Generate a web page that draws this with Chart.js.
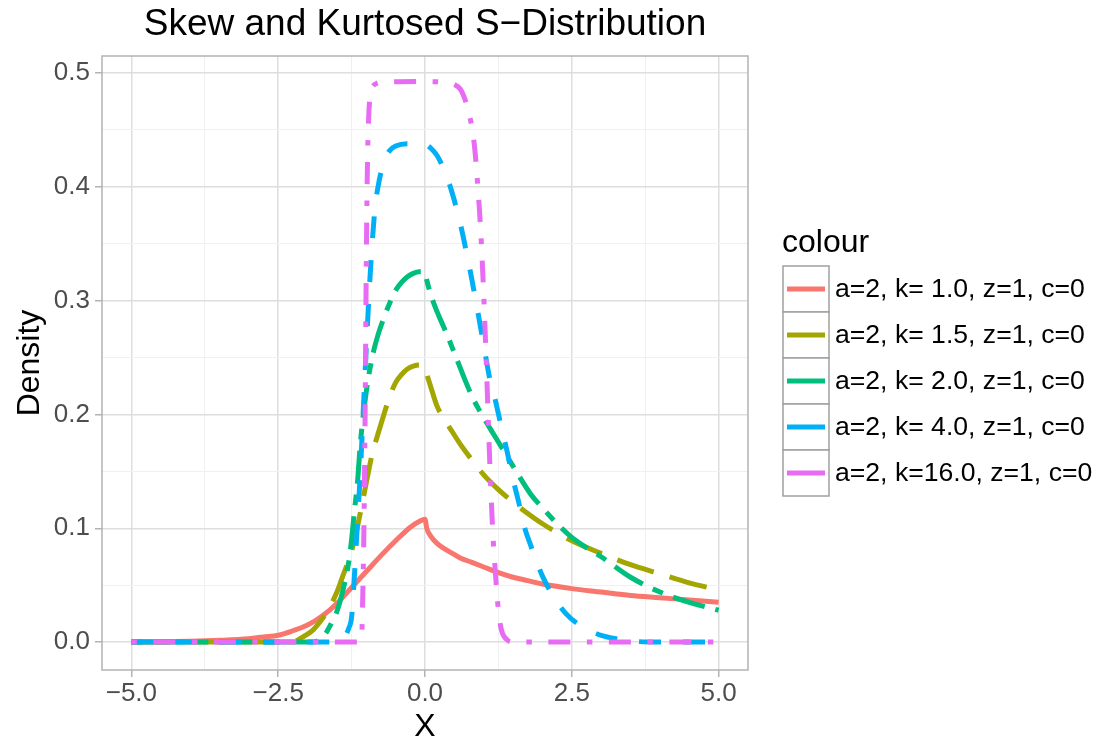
<!DOCTYPE html>
<html>
<head>
<meta charset="utf-8">
<script src="https://cdn.jsdelivr.net/npm/chart.js@4.4.1/dist/chart.umd.min.js"></script>
<style>
  html, body { margin: 0; padding: 0; background: #fff; }
  canvas { display: block; }
</style>
</head>
<body>
<canvas id="chart" width="1103" height="743"></canvas>
<script>
/* ─────────────────────────────────────────
   DATOS
───────────────────────────────────────── */
const titulo = "Skew and Kurtosed S\u2212Distribution";
const tituloX = "X";
const tituloY = "Density";
const tituloLeyenda = "colour";
const etiquetas = [
  "a=2, k= 1.0, z=1, c=0",
  "a=2, k= 1.5, z=1, c=0",
  "a=2, k= 2.0, z=1, c=0",
  "a=2, k= 4.0, z=1, c=0",
  "a=2, k=16.0, z=1, c=0"
];

// k = 1.0
const xK1 = [-5, -4.5, -4, -3.5, -3, -2.75, -2.5, -2.25, -2, -1.75, -1.5, -1.25, -1, -0.75, -0.5, -0.25, -0.1, 0,
             0.03, 0.1, 0.2, 0.3, 0.4, 0.6, 0.8, 1.0, 1.25, 1.5, 1.75, 2.0, 2.5, 3.0, 3.5, 4.0, 4.5, 5.0];
const yK1 = [0.0002, 0.0004, 0.0008, 0.0016, 0.003, 0.0045, 0.006, 0.010, 0.015, 0.023, 0.034, 0.048, 0.062, 0.076, 0.089, 0.101, 0.106, 0.108,
             0.100, 0.093, 0.087, 0.083, 0.080, 0.074, 0.070, 0.066, 0.061, 0.057, 0.054, 0.051, 0.047, 0.044, 0.041, 0.039, 0.037, 0.035];

// k = 1.5
const xK15 = [-5, -2.3, -2.2, -2.1, -2.0, -1.9, -1.8, -1.7, -1.6, -1.5, -1.4, -1.3, -1.2, -1.1, -1.0, -0.9, -0.8, -0.7, -0.6, -0.5, -0.4, -0.3, -0.2, -0.1, 0,
              0.03, 0.1, 0.2, 0.3, 0.4, 0.6, 0.8, 1.0, 1.25, 1.5, 1.75, 2.0, 2.5, 3.0, 3.5, 4.0, 4.5, 5.0];
const yK15 = [0, 0, 0.001, 0.004, 0.007, 0.011, 0.017, 0.024, 0.033, 0.044, 0.058, 0.072, 0.090, 0.114, 0.140, 0.165, 0.183, 0.200, 0.216, 0.228, 0.235, 0.240, 0.2425, 0.2435, 0.243,
              0.236, 0.224, 0.208, 0.198, 0.190, 0.174, 0.160, 0.147, 0.134, 0.123, 0.113, 0.104, 0.089, 0.078, 0.068, 0.060, 0.052, 0.046];

// k = 2.0
const xK2 = [-5, -1.9, -1.8, -1.7, -1.6, -1.5, -1.4, -1.3, -1.25, -1.2, -1.15, -1.1, -1.0, -0.9, -0.8, -0.7, -0.6, -0.5, -0.4, -0.3, -0.2, -0.1, 0,
             0.03, 0.1, 0.2, 0.3, 0.4, 0.5, 0.6, 0.7, 0.8, 0.9, 1.0, 1.2, 1.4, 1.6, 1.8, 2.0, 2.25, 2.5, 2.75, 3.0, 3.5, 4.0, 4.5, 5.0];
const yK2 = [0, 0, 0.002, 0.007, 0.016, 0.027, 0.045, 0.070, 0.090, 0.116, 0.140, 0.175, 0.220, 0.250, 0.270, 0.285, 0.298, 0.309, 0.316, 0.321, 0.324, 0.3255, 0.325,
             0.318, 0.305, 0.291, 0.279, 0.267, 0.254, 0.241, 0.228, 0.216, 0.206, 0.197, 0.180, 0.163, 0.146, 0.130, 0.118, 0.104, 0.092, 0.083, 0.075, 0.057, 0.044, 0.035, 0.028];

// k = 4.0
const xK4 = [-5, -1.5, -1.4, -1.35, -1.3, -1.25, -1.2, -1.15, -1.1, -1.05, -1.0, -0.95, -0.9, -0.85, -0.8, -0.7, -0.6, -0.5, -0.3, 0,
             0.05, 0.1, 0.2, 0.3, 0.4, 0.5, 0.6, 0.7, 0.8, 0.9, 1.0, 1.1, 1.2, 1.3, 1.4, 1.5, 1.6, 1.7, 1.8, 1.9, 2.0, 2.2, 2.4, 2.6, 2.8, 3.0, 3.25, 3.5, 4.0, 5.0];
const yK4 = [0, 0, 0.002, 0.006, 0.012, 0.022, 0.060, 0.105, 0.150, 0.205, 0.258, 0.308, 0.350, 0.382, 0.400, 0.422, 0.432, 0.436, 0.438, 0.438,
             0.436, 0.434, 0.428, 0.418, 0.405, 0.388, 0.368, 0.344, 0.318, 0.290, 0.261, 0.232, 0.212, 0.189, 0.167, 0.143, 0.122, 0.100, 0.085, 0.071, 0.058, 0.039, 0.025, 0.016, 0.010, 0.006, 0.003, 0.001, 0, 0];

// k = 16.0
const xK16 = [-5, -1.1, -1.08, -1.06, -1.04, -1.02, -1.0, -0.98, -0.96, -0.94, -0.92, -0.88, -0.82, -0.7, 0, 0.3,
              0.5, 0.6, 0.65, 0.7, 0.75, 0.8, 0.85, 0.9, 0.95, 1.0, 1.05, 1.1, 1.15, 1.2, 1.25, 1.3, 1.4, 1.5, 5.0];
const yK16 = [0, 0, 0.002, 0.04, 0.10, 0.20, 0.33, 0.42, 0.46, 0.478, 0.485, 0.489, 0.491, 0.492, 0.4925, 0.492,
              0.490, 0.486, 0.481, 0.474, 0.464, 0.452, 0.432, 0.400, 0.360, 0.305, 0.236, 0.162, 0.101, 0.060, 0.028, 0.011, 0.002, 0, 0];

const seriesX = [xK1, xK15, xK2, xK4, xK16];
const seriesY = [yK1, yK15, yK2, yK4, yK16];

// Ejes
const xTicks = [-5, -2.5, 0, 2.5, 5];
const xTickLabels = ["\u22125.0", "\u22122.5", "0.0", "2.5", "5.0"];
const xMinor = [-3.75, -1.25, 1.25, 3.75];
const yTicks = [0, 0.1, 0.2, 0.3, 0.4, 0.5];
const yTickLabels = ["0.0", "0.1", "0.2", "0.3", "0.4", "0.5"];
const yMinor = [0.05, 0.15, 0.25, 0.35, 0.45];

/* ─────────────────────────────────────────
   ESTILO
───────────────────────────────────────── */
const colores = ["#F8766D", "#A3A500", "#00BF7D", "#00B0F6", "#E76BF3"];
const U = 5.5; // unidad de los patrones de línea de R
const guiones = [[], [7 * U, 3 * U], [2 * U, 2 * U, 6 * U, 2 * U], [4 * U, 4 * U], [1 * U, 3 * U, 4 * U, 3 * U]];
const FONT = "'Liberation Sans', Arial, Helvetica, sans-serif";

/* ─────────────────────────────────────────
   HELPERS
───────────────────────────────────────── */
function toPoints(xs, ys) {
  return xs.map((x, i) => ({ x, y: ys[i] }));
}

function setTicks(major, minor) {
  return scale => {
    scale.ticks = major.concat(minor).sort((a, b) => a - b).map(v => ({ value: v }));
  };
}

function labelFor(major, labels) {
  return value => {
    const i = major.indexOf(value);
    return i >= 0 ? labels[i] : "";
  };
}

/* Título, ejes, borde y leyenda al estilo ggplot */
const decoracion = {
  id: "decoracion",
  afterDatasetsDraw(chart) {
    const { ctx, chartArea: a } = chart;
    ctx.save();
    ctx.strokeStyle = "#b3b3b3";
    ctx.lineWidth = 1.5;
    ctx.strokeRect(a.left, a.top, a.right - a.left, a.bottom - a.top);
    ctx.restore();
  },
  afterDraw(chart) {
    const { ctx, chartArea: a } = chart;
    const cx = (a.left + a.right) / 2;
    ctx.save();
    ctx.fillStyle = "#000";
    ctx.textAlign = "center";
    ctx.textBaseline = "middle";

    ctx.font = `37px ${FONT}`;
    ctx.fillText(titulo, cx, 25);

    ctx.font = `32px ${FONT}`;
    ctx.fillText(tituloX, cx, 727);

    ctx.save();
    ctx.translate(30, (a.top + a.bottom) / 2);
    ctx.rotate(-Math.PI / 2);
    ctx.fillText(tituloY, 0, 0);
    ctx.restore();

    // leyenda
    ctx.textAlign = "left";
    ctx.fillText(tituloLeyenda, 782, 243);
    ctx.font = `26.6px ${FONT}`;
    const lx = 783, ly = 266, kw = 46, kh = 46;
    etiquetas.forEach((txt, i) => {
      const y0 = ly + i * kh;
      ctx.fillStyle = "#fff";
      ctx.fillRect(lx, y0, kw, kh);
      ctx.strokeStyle = "#a0a0a0";
      ctx.lineWidth = 1.5;
      ctx.strokeRect(lx, y0, kw, kh);
      ctx.strokeStyle = colores[i];
      ctx.lineWidth = 5;
      ctx.beginPath();
      ctx.moveTo(lx + 4, y0 + kh / 2);
      ctx.lineTo(lx + kw - 4, y0 + kh / 2);
      ctx.stroke();
      ctx.fillStyle = "#000";
      ctx.fillText(txt, 835, y0 + kh / 2 + 1);
    });
    ctx.restore();
  }
};

/* ─────────────────────────────────────────
   GRÁFICO
───────────────────────────────────────── */
const datasets = etiquetas.map((lab, i) => ({
  label: lab,
  data: toPoints(seriesX[i], seriesY[i]),
  borderColor: colores[i],
  borderWidth: 5,
  borderDash: guiones[i],
  borderCapStyle: "butt",
  borderJoinStyle: "round",
  cubicInterpolationMode: "monotone",
  pointRadius: 0,
  fill: false,
  order: etiquetas.length - i
}));

const gridColor = major => ctx => major.includes(ctx.tick.value) ? "#dedede" : "#f0f0f0";
const gridWidth = major => ctx => major.includes(ctx.tick.value) ? 1.5 : 1;
const tickColor = major => ctx => major.includes(ctx.tick.value) ? "#b3b3b3" : "rgba(0,0,0,0)";

new Chart(document.getElementById("chart"), {
  type: "line",
  data: { datasets },
  plugins: [decoracion],
  options: {
    responsive: false,
    animation: false,
    devicePixelRatio: 1,
    layout: { padding: { left: 0, top: 56, right: 355, bottom: 0 } },
    plugins: {
      legend: { display: false },
      title: { display: false },
      tooltip: { enabled: false }
    },
    scales: {
      x: {
        type: "linear",
        min: -5.5,
        max: 5.5,
        afterBuildTicks: setTicks(xTicks, xMinor),
        afterFit: s => { s.height = 73; },
        border: { display: false },
        grid: {
          color: gridColor(xTicks),
          lineWidth: gridWidth(xTicks),
          tickColor: tickColor(xTicks),
          tickLength: 7,
          tickWidth: 1.5
        },
        ticks: {
          autoSkip: false,
          maxRotation: 0,
          padding: 1,
          color: "#4d4d4d",
          font: { family: FONT, size: 26 },
          callback: labelFor(xTicks, xTickLabels)
        }
      },
      y: {
        type: "linear",
        min: -0.0245,
        max: 0.515,
        afterBuildTicks: setTicks(yTicks, yMinor),
        afterFit: s => { s.width = 102; },
        border: { display: false },
        grid: {
          color: gridColor(yTicks),
          lineWidth: gridWidth(yTicks),
          tickColor: tickColor(yTicks),
          tickLength: 7,
          tickWidth: 1.5
        },
        ticks: {
          autoSkip: false,
          padding: 5,
          color: "#4d4d4d",
          font: { family: FONT, size: 26 },
          callback: labelFor(yTicks, yTickLabels)
        }
      }
    }
  }
});
</script>
</body>
</html>
